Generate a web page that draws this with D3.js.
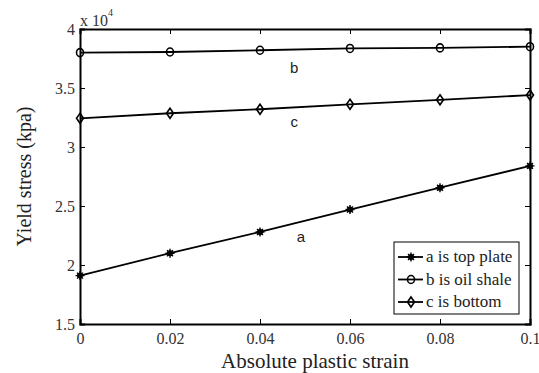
<!DOCTYPE html>
<html>
<head>
<meta charset="utf-8">
<script src="https://cdn.jsdelivr.net/npm/d3@7"></script>
<style>
  body { margin: 0; background: #fff; }
  svg { display: block; }
  .axisBlack path, .axisBlack line { stroke: #000; }
  .serif { font-family: "Liberation Serif", "Times New Roman", "DejaVu Serif", serif; }
  .sans { font-family: "Liberation Sans", Arial, sans-serif; }
</style>
</head>
<body>
<div id="chart"></div>
<script>
// strain values on x
const strain = [0, 0.02, 0.04, 0.06, 0.08, 0.1];
// yield stress, in units of 1e4 kpa
const topPlate = [1.91, 2.10, 2.28, 2.47, 2.655, 2.84];
const oilShale = [3.80, 3.805, 3.82, 3.835, 3.84, 3.85];
const bottom = [3.243, 3.286, 3.32, 3.362, 3.40, 3.44];
const xTicks = [0, 0.02, 0.04, 0.06, 0.08, 0.1];
const yTicks = [1.5, 2, 2.5, 3, 3.5, 4];
const legendNames = ["a is top plate", "b is oil shale", "c is bottom"];
const curveTags = ["a", "b", "c"];

const W = 539, H = 373;
const margin = {top: 29, right: 9, bottom: 49, left: 80},
  width = W - margin.left - margin.right,
  height = H - margin.top - margin.bottom;

const svg = d3.select("#chart")
  .append("svg")
    .attr("width", W)
    .attr("height", H)
  .append("g")
    .attr("transform", "translate(" + margin.left + "," + margin.top + ")");

const x = d3.scaleLinear().domain([0, 0.1]).range([0, width]);
const y = d3.scaleLinear().domain([1.5, 4]).range([height, 0]);

const fmtX = d => d === 0 ? "0" : String(+d.toFixed(2));
const fmtY = d => String(d);

// axes, ticks pointing inward, mirrored on top/right
svg.append("g")
  .attr("class", "axisBlack")
  .attr("transform", `translate(0, ${height})`)
  .call(d3.axisBottom(x).tickValues(xTicks).tickSize(-5).tickPadding(9).tickFormat(fmtX));
svg.append("g")
  .attr("class", "axisBlack")
  .call(d3.axisLeft(y).tickValues(yTicks).tickSize(-5).tickPadding(5).tickFormat(fmtY));
svg.append("g")
  .attr("class", "axisBlack")
  .call(d3.axisTop(x).tickValues(xTicks).tickSize(-5).tickFormat(""));
svg.append("g")
  .attr("class", "axisBlack")
  .attr("transform", `translate(${width}, 0)`)
  .call(d3.axisRight(y).tickValues(yTicks).tickSize(-5).tickFormat(""));

svg.selectAll(".axisBlack path.domain").attr("stroke-width", 2);
svg.selectAll(".axisBlack").attr("font-family", null).attr("font-size", null);
svg.selectAll(".axisBlack text")
  .attr("class", "serif")
  .style("font-size", "16px")
  .attr("fill", "#333");

// x 10^4 multiplier
const mult = svg.append("text")
  .attr("class", "serif")
  .attr("x", 0)
  .attr("y", -3)
  .style("font-size", "16px")
  .attr("fill", "#333");
mult.append("tspan").text("x 10");
mult.append("tspan").attr("dy", -10).style("font-size", "10px").text("4");

// axis titles
svg.append("text")
  .attr("class", "serif")
  .attr("x", width / 2 + 10)
  .attr("y", height + 44)
  .attr("text-anchor", "middle")
  .style("font-size", "21px")
  .attr("fill", "#222")
  .text("Absolute plastic strain");
svg.append("text")
  .attr("class", "serif")
  .attr("transform", `translate(${-49}, ${height / 2}) rotate(-90)`)
  .attr("text-anchor", "middle")
  .style("font-size", "20px")
  .attr("fill", "#222")
  .text("Yield stress (kpa)");

const series = [
  {vals: topPlate, marker: "star"},
  {vals: oilShale, marker: "circle"},
  {vals: bottom, marker: "diamond"}
];

const line = d3.line().x((d, i) => x(strain[i])).y(d => y(d));

function drawMarker(g, kind) {
  if (kind === "circle") {
    g.append("ellipse").attr("rx", 3.5).attr("ry", 4).attr("fill", "none").attr("stroke", "#000").attr("stroke-width", 1.6);
  } else if (kind === "diamond") {
    g.append("path").attr("d", "M0,-5L3.5,0L0,5L-3.5,0Z").attr("fill", "none").attr("stroke", "#000").attr("stroke-width", 1.6);
  } else {
    g.append("circle").attr("r", 3).attr("fill", "#000");
    g.append("path").attr("d", "M0,-4.5V4.5M-4.5,0H4.5M-3,-3L3,3M-3,3L3,-3")
      .attr("stroke", "#000").attr("stroke-width", 1.4);
  }
}

series.forEach(s => {
  svg.append("path")
    .datum(s.vals)
    .attr("fill", "none")
    .attr("stroke", "#000")
    .attr("stroke-width", 1.8)
    .attr("d", line);
  s.vals.forEach((v, i) => {
    const g = svg.append("g").attr("transform", `translate(${x(strain[i])},${y(v)})`);
    drawMarker(g, s.marker);
  });
});

// curve tags a, b, c
const tagPos = [[0.0491, 2.195], [0.0476, 3.627], [0.0476, 3.17]];
curveTags.forEach((t, i) => {
  svg.append("text")
    .attr("class", "sans")
    .attr("x", x(tagPos[i][0]))
    .attr("y", y(tagPos[i][1]))
    .attr("text-anchor", "middle")
    .style("font-size", "15px")
    .attr("fill", "#222")
    .text(t);
});

// legend
const lg = svg.append("g").attr("transform", `translate(${394 - margin.left}, ${242 - margin.top})`);
lg.append("rect")
  .attr("width", 125).attr("height", 72)
  .attr("fill", "#fff").attr("stroke", "#000").attr("stroke-width", 1);
legendNames.forEach((name, i) => {
  const row = lg.append("g").attr("transform", `translate(0, ${15 + i * 22.5})`);
  row.append("line").attr("x1", 4).attr("x2", 29).attr("stroke", "#000").attr("stroke-width", 1.8);
  drawMarker(row.append("g").attr("transform", "translate(17,0)"), series[i].marker);
  row.append("text")
    .attr("class", "serif")
    .attr("x", 32).attr("y", 5)
    .style("font-size", "17px")
    .attr("fill", "#222")
    .text(name);
});
</script>
</body>
</html>
